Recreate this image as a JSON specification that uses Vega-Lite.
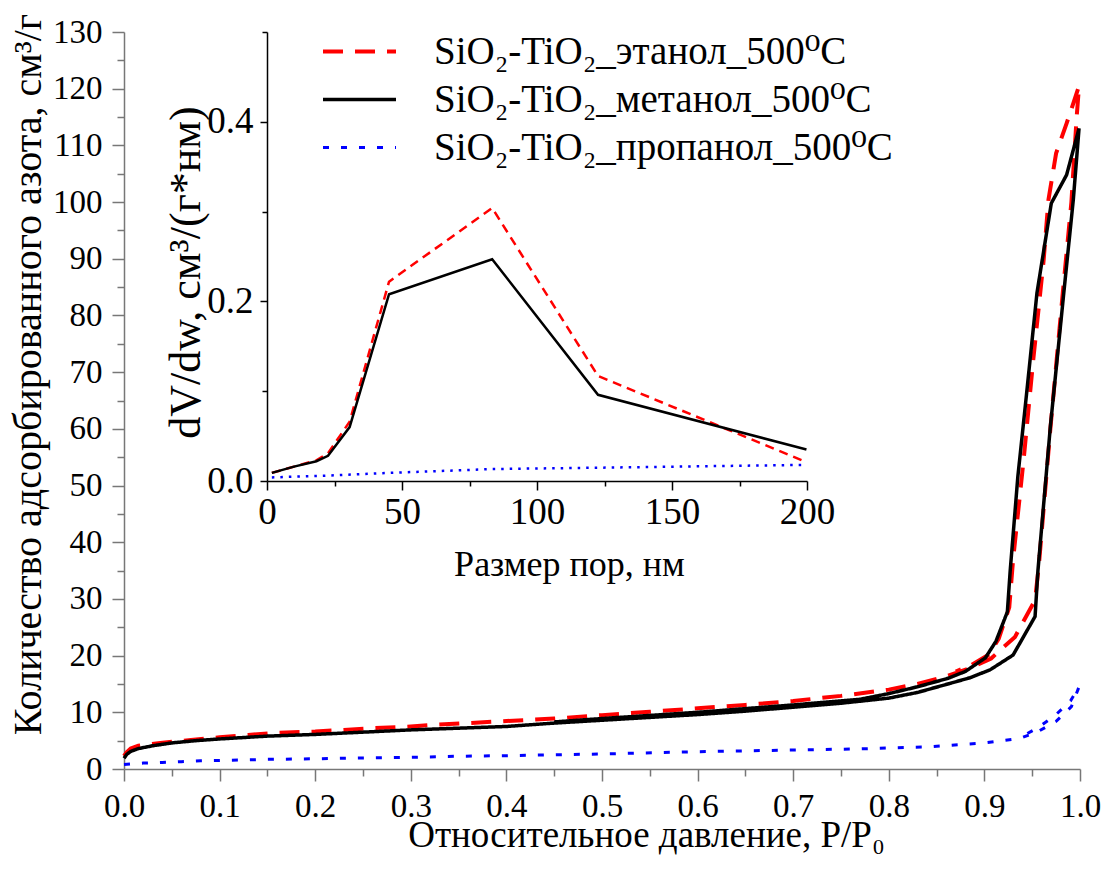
{
  "$schema": "https://vega.github.io/schema/vega-lite/v6.json",
  "width": 956,
  "height": 737,
  "autosize": {"type": "none"},
  "padding": {"left": 124, "top": 32, "right": 30, "bottom": 102},
  "background": "white",
  "config": {
    "font": "Liberation Serif, Times New Roman, DejaVu Serif, serif",
    "view": {"stroke": null},
    "axis": {"grid": false, "labelFlush": false, "labelColor": "black", "titleColor": "black", "titleFontWeight": "normal", "labelFont": "Liberation Serif, Times New Roman, DejaVu Serif, serif", "titleFont": "Liberation Serif, Times New Roman, DejaVu Serif, serif"},
    "legend": {"labelFont": "Liberation Serif, Times New Roman, DejaVu Serif, serif"}
  },
  "datasets": {
    "iso": [
      {"s":"e","i":1,"p":0.0,"v":2.3},{"s":"e","i":2,"p":0.003,"v":3.0},{"s":"e","i":3,"p":0.007,"v":3.6},{"s":"e","i":4,"p":0.015,"v":4.1},{"s":"e","i":5,"p":0.038,"v":4.6},{"s":"e","i":6,"p":0.07,"v":5.1},{"s":"e","i":7,"p":0.1,"v":5.6},{"s":"e","i":8,"p":0.13,"v":6.0},{"s":"e","i":9,"p":0.16,"v":6.4},{"s":"e","i":10,"p":0.2,"v":6.6},{"s":"e","i":11,"p":0.23,"v":6.9},{"s":"e","i":12,"p":0.26,"v":7.2},{"s":"e","i":13,"p":0.29,"v":7.4},{"s":"e","i":14,"p":0.325,"v":7.8},{"s":"e","i":15,"p":0.36,"v":8.1},{"s":"e","i":16,"p":0.393,"v":8.4},{"s":"e","i":17,"p":0.45,"v":8.9},{"s":"e","i":18,"p":0.5,"v":9.5},{"s":"e","i":19,"p":0.55,"v":10.1},{"s":"e","i":20,"p":0.6,"v":10.7},{"s":"e","i":21,"p":0.65,"v":11.3},{"s":"e","i":22,"p":0.7,"v":12.0},{"s":"e","i":23,"p":0.75,"v":12.9},{"s":"e","i":24,"p":0.8,"v":14.0},{"s":"e","i":25,"p":0.83,"v":15.0},{"s":"e","i":26,"p":0.861,"v":16.4},{"s":"e","i":27,"p":0.885,"v":17.8},{"s":"e","i":28,"p":0.907,"v":19.5},{"s":"e","i":29,"p":0.932,"v":23.3},{"s":"e","i":30,"p":0.953,"v":29.8},{"s":"e","i":31,"p":0.957,"v":36},{"s":"e","i":32,"p":0.969,"v":60},{"s":"e","i":33,"p":0.982,"v":84},{"s":"e","i":34,"p":0.991,"v":100},{"s":"e","i":35,"p":0.9965,"v":115},{"s":"e","i":36,"p":0.999,"v":120.5},{"s":"e","i":37,"p":0.993,"v":117.4},{"s":"e","i":38,"p":0.986,"v":113.9},{"s":"e","i":39,"p":0.975,"v":108.6},{"s":"e","i":40,"p":0.967,"v":100.4},{"s":"e","i":41,"p":0.962,"v":89.8},{"s":"e","i":42,"p":0.951,"v":72},{"s":"e","i":43,"p":0.941,"v":54.5},{"s":"e","i":44,"p":0.93,"v":36.9},{"s":"e","i":45,"p":0.926,"v":28.5},{"s":"e","i":46,"p":0.915,"v":23},{"s":"e","i":47,"p":0.905,"v":20.2},{"s":"e","i":48,"p":0.885,"v":18.2},{"s":"e","i":49,"p":0.87,"v":17.2},
      {"s":"m","i":1,"p":0.0,"v":1.9},{"s":"m","i":2,"p":0.003,"v":2.6},{"s":"m","i":3,"p":0.007,"v":3.1},{"s":"m","i":4,"p":0.015,"v":3.6},{"s":"m","i":5,"p":0.03,"v":4.1},{"s":"m","i":6,"p":0.05,"v":4.6},{"s":"m","i":7,"p":0.075,"v":5.0},{"s":"m","i":8,"p":0.1,"v":5.3},{"s":"m","i":9,"p":0.15,"v":5.8},{"s":"m","i":10,"p":0.2,"v":6.1},{"s":"m","i":11,"p":0.25,"v":6.5},{"s":"m","i":12,"p":0.3,"v":6.9},{"s":"m","i":13,"p":0.35,"v":7.2},{"s":"m","i":14,"p":0.4,"v":7.5},{"s":"m","i":15,"p":0.45,"v":8.1},{"s":"m","i":16,"p":0.5,"v":8.6},{"s":"m","i":17,"p":0.55,"v":9.1},{"s":"m","i":18,"p":0.6,"v":9.6},{"s":"m","i":19,"p":0.65,"v":10.2},{"s":"m","i":20,"p":0.7,"v":10.9},{"s":"m","i":21,"p":0.75,"v":11.6},{"s":"m","i":22,"p":0.8,"v":12.5},{"s":"m","i":23,"p":0.83,"v":13.5},{"s":"m","i":24,"p":0.864,"v":15.1},{"s":"m","i":25,"p":0.885,"v":16.1},{"s":"m","i":26,"p":0.906,"v":17.5},{"s":"m","i":27,"p":0.93,"v":20.1},{"s":"m","i":28,"p":0.953,"v":26.9},{"s":"m","i":29,"p":0.956,"v":35},{"s":"m","i":30,"p":0.969,"v":60.4},{"s":"m","i":31,"p":0.983,"v":83.9},{"s":"m","i":32,"p":0.993,"v":100.4},{"s":"m","i":33,"p":0.999,"v":113},{"s":"m","i":34,"p":0.986,"v":104.8},{"s":"m","i":35,"p":0.97,"v":99.8},{"s":"m","i":36,"p":0.955,"v":84},{"s":"m","i":37,"p":0.944,"v":66},{"s":"m","i":38,"p":0.935,"v":51.6},{"s":"m","i":39,"p":0.927,"v":35},{"s":"m","i":40,"p":0.924,"v":27.7},{"s":"m","i":41,"p":0.912,"v":22.5},{"s":"m","i":42,"p":0.901,"v":19.6},{"s":"m","i":43,"p":0.88,"v":17.2},{"s":"m","i":44,"p":0.862,"v":16.0},{"s":"m","i":45,"p":0.83,"v":14.5},{"s":"m","i":46,"p":0.8,"v":13.3},{"s":"m","i":47,"p":0.77,"v":12.3},{"s":"m","i":48,"p":0.7,"v":11.3},{"s":"m","i":49,"p":0.6,"v":10.0},{"s":"m","i":50,"p":0.5,"v":8.9},{"s":"m","i":51,"p":0.45,"v":8.3},
      {"s":"p","i":1,"p":0.0,"v":0.8},{"s":"p","i":2,"p":0.02,"v":1.05},{"s":"p","i":3,"p":0.04,"v":1.15},{"s":"p","i":4,"p":0.06,"v":1.3},{"s":"p","i":5,"p":0.08,"v":1.45},{"s":"p","i":6,"p":0.1,"v":1.5},{"s":"p","i":7,"p":0.15,"v":1.7},{"s":"p","i":8,"p":0.2,"v":1.8},{"s":"p","i":9,"p":0.25,"v":1.95},{"s":"p","i":10,"p":0.3,"v":2.05},{"s":"p","i":11,"p":0.35,"v":2.25},{"s":"p","i":12,"p":0.4,"v":2.35},{"s":"p","i":13,"p":0.5,"v":2.65},{"s":"p","i":14,"p":0.6,"v":3.05},{"s":"p","i":15,"p":0.7,"v":3.35},{"s":"p","i":16,"p":0.77,"v":3.55},{"s":"p","i":17,"p":0.8,"v":3.7},{"s":"p","i":18,"p":0.84,"v":3.9},{"s":"p","i":19,"p":0.9,"v":4.6},{"s":"p","i":20,"p":0.937,"v":5.4},{"s":"p","i":21,"p":0.956,"v":6.6},{"s":"p","i":22,"p":0.975,"v":8.4},{"s":"p","i":23,"p":0.991,"v":11},{"s":"p","i":24,"p":0.999,"v":14.5},{"s":"p","i":25,"p":0.99,"v":12.0},{"s":"p","i":26,"p":0.973,"v":9.3},{"s":"p","i":27,"p":0.955,"v":7.2},{"s":"p","i":28,"p":0.94,"v":5.8}
    ],
    "psd": [
      {"s":"e","d":1.8,"y":0.009},{"s":"e","d":10,"y":0.016},{"s":"e","d":18.3,"y":0.023},{"s":"e","d":22.6,"y":0.031},{"s":"e","d":30.6,"y":0.066},{"s":"e","d":45.2,"y":0.222},{"s":"e","d":83.4,"y":0.304},{"s":"e","d":122.6,"y":0.117},{"s":"e","d":199.8,"y":0.021},
      {"s":"m","d":1.8,"y":0.009},{"s":"m","d":10,"y":0.016},{"s":"m","d":18.3,"y":0.022},{"s":"m","d":22.6,"y":0.028},{"s":"m","d":30.6,"y":0.06},{"s":"m","d":45.2,"y":0.208},{"s":"m","d":83.4,"y":0.247},{"s":"m","d":122.6,"y":0.096},{"s":"m","d":199.8,"y":0.035},
      {"s":"p","d":1.8,"y":0.004},{"s":"p","d":22.6,"y":0.006},{"s":"p","d":45.2,"y":0.009},{"s":"p","d":83.4,"y":0.0133},{"s":"p","d":122.6,"y":0.0148},{"s":"p","d":199.8,"y":0.018}
    ]
  },
  "layer": [
    {
      "layer": [
        {
          "data": {"name": "iso"},
          "mark": {"type": "line", "clip": false},
          "encoding": {
            "x": {"field": "p", "type": "quantitative", "scale": {"domain": [0, 1], "nice": false, "zero": false},
              "axis": {"orient": "bottom", "values": [0,0.1,0.2,0.3,0.4,0.5,0.6,0.7,0.8,0.9,1.0], "format": ".1f", "tickSize": 12, "tickWidth": 1.5, "tickColor": "#777", "domainColor": "#777", "domainWidth": 1.5, "labelFontSize": 33, "labelPadding": 9,
                "title": "Относительное давление, P/P₀", "titleFontSize": 37, "titleX": 522, "titleY": 77, "titleBaseline": "alphabetic"}},
            "y": {"field": "v", "type": "quantitative", "scale": {"domain": [0, 130], "nice": false, "zero": false},
              "axis": {"orient": "left", "values": [0,10,20,30,40,50,60,70,80,90,100,110,120,130], "tickSize": 12, "tickWidth": 1.5, "tickColor": "#777", "domainColor": "#777", "domainWidth": 1.5, "labelFontSize": 33, "labelPadding": 10,
                "title": "Количество адсорбированного азота, см³/г", "titleFontSize": 40, "titleX": -84, "titleY": 342, "titleAngle": 270, "titleBaseline": "alphabetic"}},
            "color": {"field": "s", "type": "nominal", "scale": {"domain": ["e","m","p"], "range": ["#ff0000","#000000","#0000ff"]},
              "legend": {"orient": "none", "legendX": 216, "legendY": 0, "title": null, "labelFontSize": 39, "labelColor": "black", "labelLimit": 0, "labelOffset": 55, "rowPadding": 8, "symbolType": "M-4,0H4", "symbolSize": 333, "symbolStrokeWidth": 4,
                "labelExpr": "datum.label == 'e' ? 'SiO₂-TiO₂_этанол_500⁰C' : datum.label == 'm' ? 'SiO₂-TiO₂_метанол_500⁰C' : 'SiO₂-TiO₂_пропанол_500⁰C'"}},
            "strokeDash": {"field": "s", "type": "nominal", "scale": {"domain": ["e","m","p"], "range": [[20,12],[1,0],[6,12]]}},
            "strokeWidth": {"field": "s", "type": "nominal", "scale": {"domain": ["e","m","p"], "range": [4,3,5]}, "legend": null},
            "order": {"field": "i", "type": "quantitative"}
          }
        },
        {
          "data": {"name": "iso"},
          "mark": {"type": "point", "opacity": 0},
          "encoding": {
            "x": {"field": "p", "type": "quantitative", "axis": {"orient": "bottom", "values": [0.05,0.15,0.25,0.35,0.45,0.55,0.65,0.75,0.85,0.95], "labels": false, "domain": false, "tickSize": 7, "tickWidth": 1.5, "tickColor": "#777", "title": null}},
            "y": {"field": "v", "type": "quantitative", "axis": {"orient": "left", "values": [5,15,25,35,45,55,65,75,85,95,105,115,125], "labels": false, "domain": false, "tickSize": 7, "tickWidth": 1.5, "tickColor": "#777", "title": null}}
          }
        }
      ],
      "resolve": {"axis": {"x": "independent", "y": "independent"}}
    },
    {
      "layer": [
        {
          "data": {"name": "psd"},
          "transform": [{"filter": "datum.s == 'e'"}],
          "mark": {"type": "line", "color": "#ff0000", "strokeDash": [9, 6], "strokeWidth": 2.5},
          "encoding": {
            "x": {"field": "d", "type": "quantitative", "scale": {"domain": [0, 200], "range": [143, 683], "nice": false, "zero": false},
              "axis": {"orient": "bottom", "offset": -288, "values": [0,50,100,150,200], "tickSize": 9, "tickWidth": 1.5, "tickColor": "black", "domainColor": "black", "domainWidth": 1.5, "labelFontSize": 37, "labelPadding": 4,
                "title": "Размер пор, нм", "titleFontSize": 36, "titleX": 445, "titleY": 94, "titleBaseline": "alphabetic"}},
            "y": {"field": "y", "type": "quantitative", "scale": {"domain": [0, 0.5], "range": [449, 0], "nice": false, "zero": false},
              "axis": {"orient": "left", "offset": -143, "values": [0, 0.2, 0.4], "format": ".1f", "tickSize": 7, "tickWidth": 1.5, "tickColor": "black", "domainColor": "black", "domainWidth": 1.5, "labelFontSize": 37, "labelPadding": 7,
                "title": "dV/dw, см³/(г*нм)", "titleFontSize": 44, "titleX": -68, "titleY": 240, "titleAngle": 270, "titleBaseline": "alphabetic"}}
          }
        },
        {
          "data": {"name": "psd"},
          "transform": [{"filter": "datum.s == 'm'"}],
          "mark": {"type": "line", "color": "#000000", "strokeWidth": 2.5},
          "encoding": {
            "x": {"field": "d", "type": "quantitative", "axis": null},
            "y": {"field": "y", "type": "quantitative", "axis": null}
          }
        },
        {
          "data": {"name": "psd"},
          "transform": [{"filter": "datum.s == 'p'"}],
          "mark": {"type": "line", "color": "#0000ff", "strokeDash": [2.5, 6], "strokeWidth": 2.5},
          "encoding": {
            "x": {"field": "d", "type": "quantitative", "axis": null},
            "y": {"field": "y", "type": "quantitative", "axis": null}
          }
        },
        {
          "data": {"name": "psd"},
          "mark": {"type": "point", "opacity": 0},
          "encoding": {
            "x": {"field": "d", "type": "quantitative", "axis": {"orient": "bottom", "offset": -288, "values": [25,75,125,175], "labels": false, "domain": false, "tickSize": 5, "tickWidth": 1.5, "tickColor": "black", "title": null}},
            "y": {"field": "y", "type": "quantitative", "axis": {"orient": "left", "offset": -143, "values": [0.1,0.3,0.5], "labels": false, "domain": false, "tickSize": 5, "tickWidth": 1.5, "tickColor": "black", "title": null}}
          }
        }
      ],
      "resolve": {"axis": {"x": "independent", "y": "independent"}}
    }
  ],
  "resolve": {"scale": {"x": "independent", "y": "independent"}, "axis": {"x": "independent", "y": "independent"}}
}
